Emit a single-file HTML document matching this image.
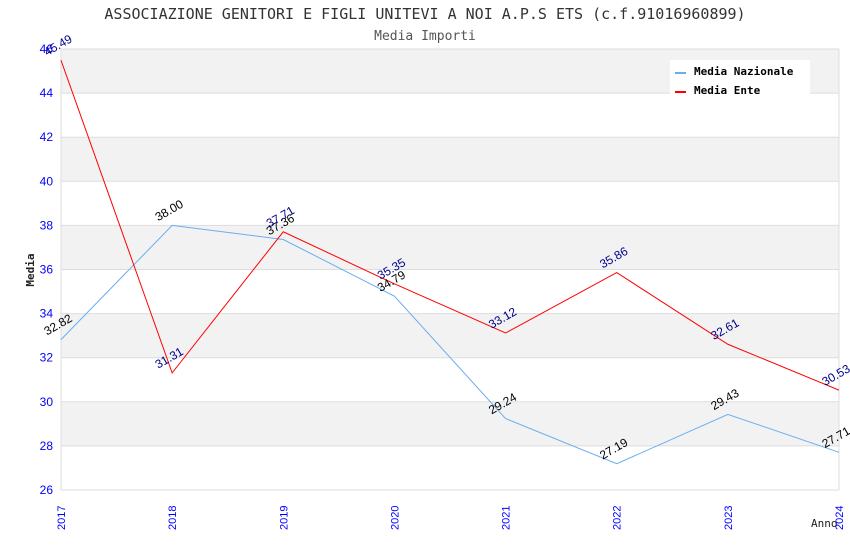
<!DOCTYPE html>
<html><head><meta charset="utf-8"><style>
body{margin:0;background:#fff;width:850px;height:550px;overflow:hidden}
text{font-family:"Liberation Sans",sans-serif}
.mono{font-family:"DejaVu Sans Mono","Liberation Mono",monospace}
</style></head><body>
<svg id="chart" width="850" height="550" xmlns="http://www.w3.org/2000/svg">
<text class="mono" x="425" y="19" text-anchor="middle" font-size="15" fill="#333">ASSOCIAZIONE GENITORI E FIGLI UNITEVI A NOI A.P.S ETS (c.f.91016960899)</text>
<text class="mono" x="425" y="40" text-anchor="middle" font-size="13" fill="#555">Media Importi</text>
<g id="bands"></g><g id="grid"></g><g id="yticks"></g><g id="xticks"></g><g id="series"></g><g id="labels"></g>
<text class="mono" transform="translate(34,270) rotate(-90)" text-anchor="middle" font-size="11" font-weight="bold" fill="#222">Media</text>
<text class="mono" x="811" y="527" font-size="11" fill="#222">Anno</text>
<g>
<rect x="670" y="60" width="140" height="34" fill="#fff"/>
<rect x="675" y="72" width="11" height="2" fill="#6aaef0"/>
<text class="mono" x="694" y="75" font-size="11" font-weight="bold" fill="#000">Media Nazionale</text>
<rect x="675" y="91" width="11" height="2" fill="#f00"/>
<text class="mono" x="694" y="94" font-size="11" font-weight="bold" fill="#000">Media Ente</text>
</g>
</svg>
<script>
const years=["2017","2018","2019","2020","2021","2022","2023","2024"];
const nazionale=[32.82,38.00,37.36,34.79,29.24,27.19,29.43,27.71];
const ente=[45.49,31.31,37.71,35.35,33.12,35.86,32.61,30.53];
const yTicks=[26,28,30,32,34,36,38,40,42,44,46];
const NS="http://www.w3.org/2000/svg";
const X0=61,X1=839,Y0=490,Y1=49,YMIN=26,YMAX=46;
const xs=i=>X0+(X1-X0)*i/(years.length-1);
const ys=v=>Y0-(v-YMIN)/(YMAX-YMIN)*(Y0-Y1);
function mk(tag,attrs,parent){const e=document.createElementNS(NS,tag);for(const k in attrs)e.setAttribute(k,attrs[k]);document.getElementById(parent).appendChild(e);return e;}
for(let i=0;i<yTicks.length-1;i++){
 if(i%2===1){const r=mk('rect',{x:X0,y:ys(yTicks[i+1]),width:X1-X0,height:ys(yTicks[i])-ys(yTicks[i+1]),fill:'#f2f2f2'},'bands');
 
 }
}
yTicks.forEach(t=>{
 const l=mk('line',{x1:X0,x2:X1,y1:ys(t),y2:ys(t),stroke:'#ddd'},'grid');
 
 
 const tx=mk('text',{x:X0-8,y:ys(t)+4,'text-anchor':'end','font-size':12,fill:'#00f'},'yticks');
 
 
 tx.textContent=t;
});
mk('line',{x1:X0,x2:X0,y1:Y1,y2:Y0,stroke:'#ddd'},'grid');
mk('line',{x1:X1,x2:X1,y1:Y1,y2:Y0,stroke:'#ddd'},'grid');
years.forEach((y,i)=>{
 const t=mk('text',{transform:`translate(${xs(i)+4},${530}) rotate(-90)`,'font-size':11,fill:'#00f'},'xticks');
 
 
 t.textContent=y;
});
function series(data,color,lc,name){
 const p=mk('polyline',{points:data.map((v,i)=>xs(i)+','+ys(v)).join(' '),fill:'none',stroke:color,'stroke-width':1},'series');
 
 
 data.forEach((v,i)=>{
  const t=mk('text',{transform:`translate(${xs(i)-14},${ys(v)-4}) rotate(-30)`,'font-size':12,fill:lc},'labels');
  
  
  t.textContent=v.toFixed(2);
 });
}
series(nazionale,'#6aaef0','#000','line-media-nazionale');
series(ente,'#f00','#00008b','line-media-ente');
</script>
</body></html>
